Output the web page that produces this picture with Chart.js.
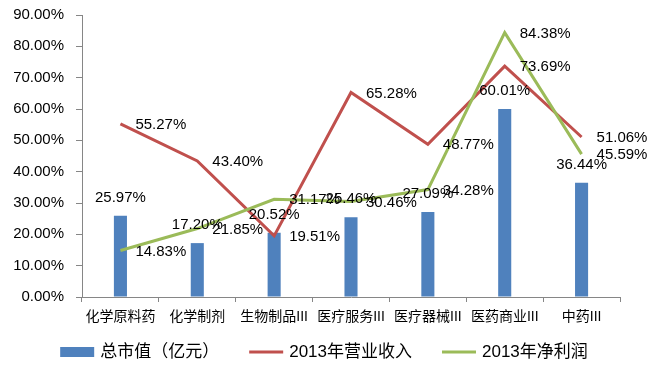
<!DOCTYPE html>
<html>
<head>
<meta charset="utf-8">
<script src="https://cdn.jsdelivr.net/npm/chart.js@4/dist/chart.umd.min.js"></script>
<style>
  body { margin: 0; background: #fff; }
  #wrap { width: 654px; height: 374px; }
</style>
</head>
<body>
<div id="wrap"><canvas id="chart" width="654" height="374"></canvas></div>
<script>
// data (percent)
const categories = ['化学原料药', '化学制剂', '生物制品III', '医疗服务III', '医疗器械III', '医药商业III', '中药III'];
const marketCap = [25.97, 17.20, 20.52, 25.46, 27.09, 60.01, 36.44];
const revenue2013 = [55.27, 43.40, 19.51, 65.28, 48.77, 73.69, 51.06];
const profit2013 = [14.83, 21.85, 31.17, 30.46, 34.28, 84.38, 45.59];
const seriesNames = ['总市值（亿元）', '2013年营业收入', '2013年净利润'];
const yMax = 90;
const yStep = 10;

const FONT = "'Liberation Sans', 'Noto Sans CJK SC', sans-serif";
Chart.defaults.color = '#000';
Chart.defaults.font.family = FONT;

// simple value labels: above bars, right of line points
const valueLabels = {
    id: 'valueLabels',
    afterDatasetsDraw(chart) {
        const ctx = chart.ctx;
        ctx.save();
        ctx.font = '15px ' + FONT;
        ctx.fillStyle = '#000';
        chart.data.datasets.forEach((ds, i) => {
            const meta = chart.getDatasetMeta(i);
            meta.data.forEach((el, j) => {
                const text = ds.data[j].toFixed(2) + '%';
                ctx.textBaseline = 'middle';
                if (ds.type === 'bar') {
                    ctx.textAlign = 'center';
                    ctx.fillText(text, el.x, el.y - 18);
                } else {
                    ctx.textAlign = 'left';
                    ctx.fillText(text, el.x + 15, el.y + 1);
                }
            });
        });
        ctx.restore();
    }
};

// bottom legend, drawn by hand so the spacing matches the Excel original
const bottomLegend = {
    id: 'bottomLegend',
    afterDraw(chart) {
        const ctx = chart.ctx;
        const symW = 34, gap = 6, itemGap = 30, y = 352, centre = 324;
        ctx.save();
        ctx.font = '17px ' + FONT;
        ctx.textBaseline = 'middle';
        ctx.textAlign = 'left';
        const items = chart.data.datasets.map(ds => ({
            text: ds.label,
            color: ds.type === 'bar' ? ds.backgroundColor : ds.borderColor,
            isBar: ds.type === 'bar',
            w: symW + gap + ctx.measureText(ds.label).width
        }));
        const total = items.reduce((s, it) => s + it.w, 0) + itemGap * (items.length - 1);
        let x = centre - total / 2;
        items.forEach(it => {
            if (it.isBar) {
                ctx.fillStyle = it.color;
                ctx.fillRect(x, y - 5, symW, 10);
            } else {
                ctx.strokeStyle = it.color;
                ctx.lineWidth = 3;
                ctx.beginPath();
                ctx.moveTo(x, y);
                ctx.lineTo(x + symW, y);
                ctx.stroke();
            }
            ctx.fillStyle = '#000';
            ctx.fillText(it.text, x + symW + gap, y);
            x += it.w + itemGap;
        });
        ctx.restore();
    }
};

const ctx = document.getElementById('chart').getContext('2d');
const chart = new Chart(ctx, {
    data: {
        labels: categories,
        datasets: [{
            type: 'bar',
            label: seriesNames[0],
            data: marketCap,
            backgroundColor: '#4F81BD',
            barPercentage: 0.17,
            categoryPercentage: 1,
            order: 3
        }, {
            type: 'line',
            label: seriesNames[1],
            data: revenue2013,
            borderColor: '#C0504D',
            backgroundColor: '#C0504D',
            borderWidth: 3,
            pointRadius: 0,
            tension: 0,
            order: 2
        }, {
            type: 'line',
            label: seriesNames[2],
            data: profit2013,
            borderColor: '#9BBB59',
            backgroundColor: '#9BBB59',
            borderWidth: 3,
            pointRadius: 0,
            tension: 0,
            order: 1
        }]
    },
    options: {
        responsive: false,
        animation: false,
        layout: {
            padding: { top: 15, right: 34, left: 0, bottom: 47 }
        },
        plugins: {
            tooltip: { enabled: false },
            legend: { display: false }
        },
        scales: {
            x: {
                grid: {
                    display: true,
                    drawOnChartArea: false,
                    drawTicks: true,
                    tickLength: 5,
                    color: '#868686'
                },
                border: { color: '#868686' },
                ticks: {
                    font: { size: 14, family: FONT },
                    padding: 7,
                    maxRotation: 0,
                    autoSkip: false
                },
                afterFit(scale) { scale.height = 30; }
            },
            y: {
                min: 0,
                max: yMax,
                grid: {
                    display: true,
                    drawOnChartArea: false,
                    drawTicks: true,
                    tickLength: 6,
                    color: '#868686'
                },
                border: { color: '#868686' },
                ticks: {
                    stepSize: yStep,
                    padding: 12,
                    font: { size: 15, family: FONT },
                    callback: v => v.toFixed(2) + '%'
                },
                afterFit(scale) {
                    scale.width = 82;
                    scale.paddingTop = 8;
                    scale.paddingBottom = 8;
                }
            }
        }
    },
    plugins: [valueLabels, bottomLegend]
});
</script>
</body>
</html>
